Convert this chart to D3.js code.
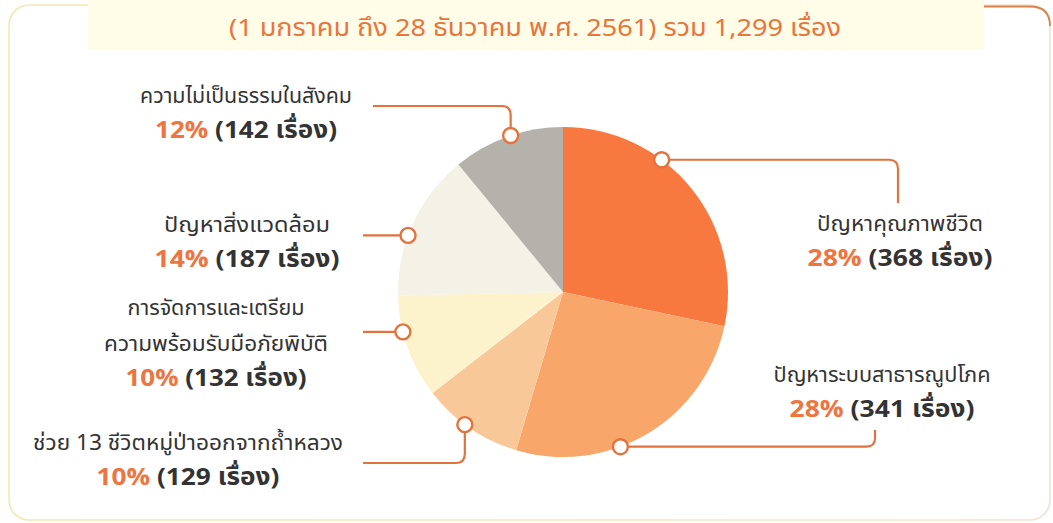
<!DOCTYPE html>
<html>
<head>
<meta charset="utf-8">
<script src="https://cdn.jsdelivr.net/npm/d3@7"></script>
<style>
  html, body { margin: 0; padding: 0; background: #ffffff; }
  svg { display: block; }
  text { font-family: "Noto Sans Thai", "Noto Sans Thai UI", "Noto Sans", sans-serif; }
</style>
</head>
<body>
<svg id="chart" width="1053" height="523"></svg>
<script>
// ---------------- data ----------------
const titleText = "(1 มกราคม ถึง 28 ธันวาคม พ.ศ. 2561) รวม 1,299 เรื่อง";
const categories = [
  ["ปัญหาคุณภาพชีวิต"],
  ["ปัญหาระบบสาธารณูปโภค"],
  ["ช่วย 13 ชีวิตหมู่ป่าออกจากถ้ำหลวง"],
  ["การจัดการและเตรียม", "ความพร้อมรับมือภัยพิบัติ"],
  ["ปัญหาสิ่งแวดล้อม"],
  ["ความไม่เป็นธรรมในสังคม"]
];
const values = [368, 341, 129, 132, 187, 142];
const percentLabels = ["28%", "28%", "10%", "10%", "14%", "12%"];
const unitLabel = "เรื่อง";

// ---------------- styles / layout ----------------
const sliceColors = ["#F7793F", "#F8A669", "#F9C899", "#FCF3CD", "#F4F1E7", "#B5B2AB"];
const accent = "#EE7440";
const lineColor = "#E2733C";
const darkText = "#333333";

const cx = 563, cy = 292, R = 165;

// fraction of slice span where the marker sits
const markerFrac = [0.36, 0.61, 0.56, 0.65, 0.41, 0.53];
// leader route: list of steps, "h" to x or "v" to y
const leaderRoute = [
  [["h", 898], ["v", 203]],
  [["h", 875], ["v", 430]],
  [["v", 463], ["h", 363]],
  [["h", 363]],
  [["h", 363]],
  [["v", 106], ["h", 373]]
];
// label anchor: center x, first baseline y
const labelPos = [
  [900, 231], [882, 382], [188, 450], [216, 315], [247, 232], [246, 103]
];
// rendered widths of the label lines
const labelWidths = [[166], [217], [310], [177, 224], [166], [212]];
const pctWidths = [185, 185, 183, 181, 185, 182];
const lineGap = 36;

const svg = d3.select("#chart");

// ---------------- frame ----------------
const defs = svg.append("defs");
const grad = defs.append("linearGradient").attr("id", "frameGrad")
  .attr("x1", "0").attr("y1", "0").attr("x2", "1").attr("y2", "0");
grad.append("stop").attr("offset", "0").attr("stop-color", "#F3E7B5");
grad.append("stop").attr("offset", "0.9").attr("stop-color", "#F3E9CC");
grad.append("stop").attr("offset", "1").attr("stop-color", "#F0E2D6");

svg.append("rect")
  .attr("x", 9).attr("y", 5).attr("width", 1041).attr("height", 515)
  .attr("rx", 20).attr("ry", 20)
  .attr("fill", "#ffffff")
  .attr("stroke", "url(#frameGrad)").attr("stroke-width", 1.6);

// title band
svg.append("rect")
  .attr("x", 88).attr("y", 0).attr("width", 896).attr("height", 50)
  .attr("fill", "#FFFCE8");

// orange top-right frame segment
svg.append("path")
  .attr("d", "M984,6.5 L1030,6.5 Q1050,6.5 1050,26")
  .attr("fill", "none").attr("stroke", "#D9814A").attr("stroke-width", 1.8);

svg.append("text")
  .attr("x", 535).attr("y", 36)
  .attr("text-anchor", "middle")
  .attr("font-size", 24)
  .attr("fill", "#E8753C")
  .attr("textLength", 612).attr("lengthAdjust", "spacingAndGlyphs")
  .text(titleText);

// ---------------- pie ----------------
const pie = d3.pie().sort(null).value(d => d)(values);
const arc = d3.arc().innerRadius(0).outerRadius(R);

const g = svg.append("g").attr("transform", `translate(${cx},${cy})`);
g.selectAll("path.slice")
  .data(pie)
  .join("path")
  .attr("class", "slice")
  .attr("d", arc)
  .attr("fill", (d, i) => sliceColors[i]);

// ---------------- leaders ----------------
function roundedPath(points, r) {
  let d = `M${points[0][0]},${points[0][1]}`;
  for (let i = 1; i < points.length - 1; i++) {
    const [px, py] = points[i - 1], [x, y] = points[i], [nx, ny] = points[i + 1];
    const d1 = Math.hypot(x - px, y - py), d2 = Math.hypot(nx - x, ny - y);
    const rr = Math.min(r, d1 / 2, d2 / 2);
    const ax = x - (x - px) / d1 * rr, ay = y - (y - py) / d1 * rr;
    const bx = x + (nx - x) / d2 * rr, by = y + (ny - y) / d2 * rr;
    d += ` L${ax},${ay} Q${x},${y} ${bx},${by}`;
  }
  const last = points[points.length - 1];
  d += ` L${last[0]},${last[1]}`;
  return d;
}

pie.forEach((d, i) => {
  const a = d.startAngle + (d.endAngle - d.startAngle) * markerFrac[i];
  const mx = cx + R * Math.sin(a), my = cy - R * Math.cos(a);
  const pts = [[mx, my]];
  let x = mx, y = my;
  leaderRoute[i].forEach(([k, v]) => {
    if (k === "h") x = v; else y = v;
    pts.push([x, y]);
  });
  svg.append("path")
    .attr("d", roundedPath(pts, 9))
    .attr("fill", "none").attr("stroke", lineColor).attr("stroke-width", 2.2);
  svg.append("circle")
    .attr("cx", mx).attr("cy", my).attr("r", 7.5)
    .attr("fill", "#ffffff").attr("stroke", lineColor).attr("stroke-width", 2.4);
});

// ---------------- labels ----------------
categories.forEach((lines, i) => {
  const [lx, ly] = labelPos[i];
  const t = svg.append("g");
  lines.forEach((ln, j) => {
    t.append("text")
      .attr("x", lx).attr("y", ly + j * lineGap)
      .attr("text-anchor", "middle")
      .attr("font-size", 21)
      .attr("fill", darkText)
      .attr("textLength", labelWidths[i][j]).attr("lengthAdjust", "spacingAndGlyphs")
      .text(ln);
  });
  const pt = t.append("text")
    .attr("x", lx).attr("y", ly + lines.length * lineGap - 1)
    .attr("text-anchor", "middle")
    .attr("font-size", 24)
    .attr("font-weight", "bold")
    .attr("textLength", pctWidths[i]).attr("lengthAdjust", "spacingAndGlyphs");
  pt.append("tspan").attr("fill", accent).text(percentLabels[i]);
  pt.append("tspan").attr("fill", darkText).text(` (${values[i]} ${unitLabel})`);
});
</script>
</body>
</html>
